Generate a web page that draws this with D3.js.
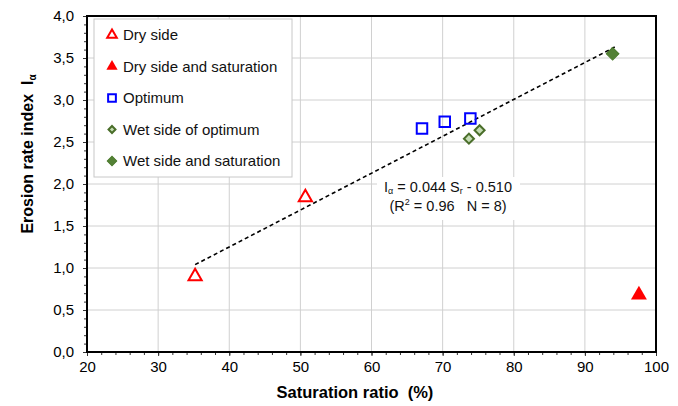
<!DOCTYPE html>
<html>
<head>
<meta charset="utf-8">
<script src="https://cdn.jsdelivr.net/npm/d3@7"></script>
<style>
  body { margin: 0; background: #fff; }
  text { font-family: "Liberation Sans", Arial, sans-serif; }
</style>
</head>
<body>
<svg id="chart"></svg>
<script>
// Data
const drySide = [ { x: 35.2, y: 0.9 }, { x: 50.7, y: 1.84 } ];
const drySat = [ { x: 97.6, y: 0.68 } ];
const optimum = [ { x: 67.1, y: 2.66 }, { x: 70.3, y: 2.74 }, { x: 73.9, y: 2.78 } ];
const wetSide = [ { x: 73.7, y: 2.54 }, { x: 75.2, y: 2.64 } ];
const wetSat = [ { x: 93.9, y: 3.55 } ];
const trendX = [35.2, 94.2];
const trendY = [1.04, 3.63];
const xTicks = [20, 30, 40, 50, 60, 70, 80, 90, 100];
const yTicks = [0, 0.5, 1, 1.5, 2, 2.5, 3, 3.5, 4];

const svg = d3.select("#chart"),
    width = 678,
    height = 406;
svg.attr("width", width).attr("height", height);

const margin = { top: 16, right: 22, bottom: 54, left: 87 };
const x = d3.scaleLinear().domain([20, 100]).range([margin.left, width - margin.right]);
const y = d3.scaleLinear().domain([0, 4]).range([height - margin.bottom, margin.top]);

// grid
svg.append("g")
    .selectAll("line")
    .data(xTicks.slice(1, -1))
    .join("line")
    .attr("x1", d => x(d)).attr("x2", d => x(d))
    .attr("y1", y(0)).attr("y2", y(4))
    .attr("stroke", "#d0d0d0");
svg.append("g")
    .selectAll("line")
    .data(yTicks.slice(1, -1))
    .join("line")
    .attr("x1", x(20)).attr("x2", x(100))
    .attr("y1", d => y(d)).attr("y2", d => y(d))
    .attr("stroke", "#d0d0d0");

// axes with minor ticks
const fmt = d3.format(".1f");
const styleLabels = g => g.selectAll("text").attr("font-size", 15).attr("fill", "#000")
    .style("font-family", "'Liberation Sans', Arial, sans-serif");
svg.append("g")
    .attr("transform", `translate(0,${y(0)})`)
    .call(d3.axisBottom(x).tickValues(d3.range(20, 101, 2)).tickSize(3).tickFormat(""))
    .call(g => g.select(".domain").remove())
    .selectAll("line").attr("stroke", "#333");
svg.append("g")
    .attr("transform", `translate(0,${y(0)})`)
    .call(d3.axisBottom(x).tickValues(xTicks).tickSize(4).tickPadding(5))
    .call(g => g.select(".domain").remove())
    .call(styleLabels)
    .selectAll("line").attr("stroke", "#333");

svg.append("g")
    .attr("transform", `translate(${x(20)},0)`)
    .call(d3.axisLeft(y).tickValues(d3.range(0, 4.01, 0.1)).tickSize(3).tickFormat(""))
    .call(g => g.select(".domain").remove())
    .selectAll("line").attr("stroke", "#333");
svg.append("g")
    .attr("transform", `translate(${x(20)},0)`)
    .call(d3.axisLeft(y).tickValues(yTicks).tickSize(4).tickPadding(9)
        .tickFormat(d => fmt(d).replace(".", ",")))
    .call(g => g.select(".domain").remove())
    .call(styleLabels)
    .selectAll("line").attr("stroke", "#333");

// plot frame
svg.append("rect")
    .attr("x", x(20)).attr("y", y(4))
    .attr("width", x(100) - x(20)).attr("height", y(0) - y(4))
    .attr("fill", "none").attr("stroke", "#000").attr("stroke-width", 2);

// trend line
svg.append("line")
    .attr("x1", x(trendX[0])).attr("y1", y(trendY[0]))
    .attr("x2", x(trendX[1])).attr("y2", y(trendY[1]))
    .attr("stroke", "#000").attr("stroke-width", 1.6)
    .attr("stroke-dasharray", "4,3");

// equation label with white background
const eq = svg.append("g").attr("transform", "translate(448,0)");
eq.append("rect")
    .attr("x", -71).attr("y", 177).attr("width", 143).attr("height", 43)
    .attr("fill", "#fff");
const t1 = eq.append("text").attr("y", 192).attr("text-anchor", "middle")
    .attr("font-size", 14.5).attr("fill", "#111").attr("xml:space", "preserve");
t1.append("tspan").text("I");
t1.append("tspan").attr("font-size", 9).attr("dy", 2).text("α");
t1.append("tspan").attr("dy", -2).text(" = 0.044 S");
t1.append("tspan").attr("font-size", 9).attr("dy", 2).text("r");
t1.append("tspan").attr("dy", -2).text(" - 0.510");
const t2 = eq.append("text").attr("y", 211).attr("text-anchor", "middle")
    .attr("font-size", 14.5).attr("fill", "#111").attr("xml:space", "preserve");
t2.append("tspan").text("(R");
t2.append("tspan").attr("font-size", 9).attr("dy", -6).text("2");
t2.append("tspan").attr("dy", 6).text(" = 0.96   N = 8)");

// markers
const tri = d3.symbol().type(d3.symbolTriangle);
const sq = d3.symbol().type(d3.symbolSquare);

function drawOpenTri(g, data, size) {
    g.selectAll(null).data(data).join("path")
        .attr("transform", d => `translate(${x(d.x)},${y(d.y)})`)
        .attr("d", tri.size(size)())
        .attr("fill", "#fff").attr("stroke", "#ff0000").attr("stroke-width", 2);
}
function drawFillTri(g, data, size) {
    g.selectAll(null).data(data).join("path")
        .attr("transform", d => `translate(${x(d.x)},${y(d.y)})`)
        .attr("d", tri.size(size)())
        .attr("fill", "#ff0000");
}
function drawSquare(g, data, size) {
    g.selectAll(null).data(data).join("path")
        .attr("transform", d => `translate(${x(d.x)},${y(d.y)})`)
        .attr("d", sq.size(size)())
        .attr("fill", "none").attr("stroke", "#0000ff").attr("stroke-width", 2);
}
function drawWetDia(g, data, size) {
    g.selectAll(null).data(data).join("path")
        .attr("transform", d => `translate(${x(d.x)},${y(d.y)}) rotate(45)`)
        .attr("d", sq.size(size)())
        .attr("fill", "#c4dcb4").attr("stroke", "#4a6e2a").attr("stroke-width", 2);
}
function drawSatDia(g, data, size) {
    g.selectAll(null).data(data).join("path")
        .attr("transform", d => `translate(${x(d.x)},${y(d.y)}) rotate(45)`)
        .attr("d", sq.size(size)())
        .attr("fill", "#538135").attr("stroke", "#4a7a2c").attr("stroke-width", 1);
}

const pts = svg.append("g");
drawSquare(pts, optimum, 110);
drawWetDia(pts, wetSide, 50);
drawSatDia(pts, wetSat, 80);
drawOpenTri(pts, drySide, 75);
drawFillTri(pts, drySat, 110);

// legend
const legend = svg.append("g");
legend.append("rect")
    .attr("x", 94).attr("y", 19).attr("width", 198).attr("height", 158)
    .attr("fill", "#fff").attr("stroke", "#c8c8c8");
const legendItems = ["Dry side", "Dry side and saturation", "Optimum", "Wet side of optimum", "Wet side and saturation"];
const legendDraw = [drawOpenTri, drawFillTri, drawSquare, drawWetDia, drawSatDia];
const legendSizes = [40, 55, 60, 24, 45];
legendItems.forEach((name, i) => {
    const ly = 35 + i * 31.5;
    const lg = legend.append("g").attr("transform", `translate(${112 - x(0)},${ly - y(0)})`);
    legendDraw[i](lg, [{ x: 0, y: 0 }], legendSizes[i]);
    legend.append("text")
        .attr("x", 123).attr("y", ly + 5)
        .attr("font-size", 15).attr("fill", "#111")
        .text(name);
});

// axis titles
svg.append("text")
    .attr("x", 355).attr("y", 398)
    .attr("text-anchor", "middle")
    .attr("font-size", 16.5).attr("font-weight", "bold")
    .attr("xml:space", "preserve")
    .text("Saturation ratio  (%)");
const yt = svg.append("text")
    .attr("transform", "translate(33,154) rotate(-90)")
    .attr("text-anchor", "middle")
    .attr("font-size", 16).attr("font-weight", "bold")
    .attr("xml:space", "preserve");
yt.append("tspan").text("Erosion rate index  I");
yt.append("tspan").attr("font-size", 10).attr("dy", 3).text("α");
</script>
</body>
</html>
